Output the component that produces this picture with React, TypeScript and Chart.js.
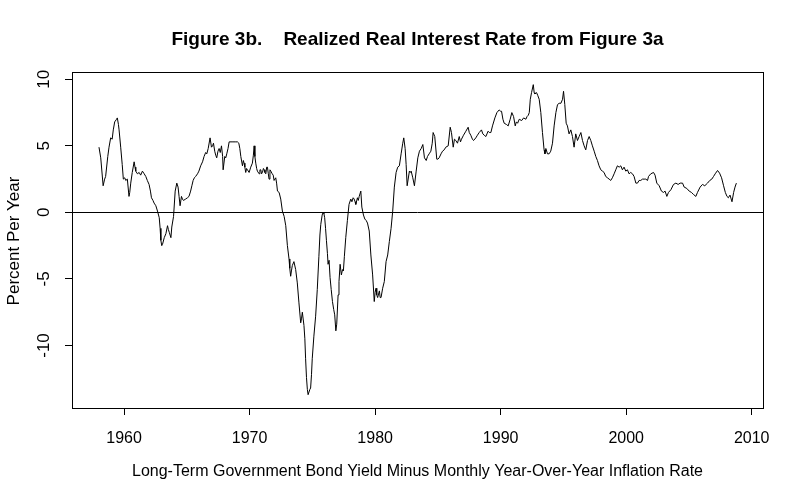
import React, { useEffect, useRef } from "react";
import { Chart, registerables } from "chart.js";

Chart.register(...registerables);

const TITLE = "Figure 3b.    Realized Real Interest Rate from Figure 3a";
const X_TITLE = "Long-Term Government Bond Yield Minus Monthly Year-Over-Year Inflation Rate";
const Y_TITLE = "Percent Per Year";

const xTicks = [1960, 1970, 1980, 1990, 2000, 2010];
const yTicks = [-10, -5, 0, 5, 10];

const years = [
  1958.0, 1958.14, 1958.33, 1958.45, 1958.53, 1958.7, 1958.8, 1958.93, 1959.05, 1959.14,
  1959.25, 1959.4, 1959.46, 1959.55, 1959.6, 1959.73, 1959.85, 1959.94, 1960.05, 1960.13,
  1960.26, 1960.39, 1960.45, 1960.53, 1960.65, 1960.8, 1960.87, 1960.93, 1961.06, 1961.2,
  1961.32, 1961.46, 1961.6, 1961.73, 1961.85, 1961.99, 1962.1, 1962.18, 1962.3, 1962.39,
  1962.53, 1962.66, 1962.8, 1962.87, 1962.93, 1963.0, 1963.06, 1963.2, 1963.33, 1963.46,
  1963.53, 1963.6, 1963.73, 1963.8, 1963.94, 1964.07, 1964.2, 1964.3, 1964.38, 1964.46,
  1964.57, 1964.65, 1964.73, 1964.9, 1965.05, 1965.17, 1965.3, 1965.4, 1965.5, 1965.6,
  1965.7, 1965.85, 1965.96, 1966.1, 1966.25, 1966.37, 1966.5, 1966.59, 1966.7, 1966.85,
  1966.96, 1967.05, 1967.12, 1967.22, 1967.3, 1967.38, 1967.48, 1967.57, 1967.66, 1967.76,
  1967.85, 1967.89, 1968.02, 1968.1, 1968.18, 1968.28, 1968.37, 1968.6, 1968.85, 1969.03,
  1969.14, 1969.22, 1969.3, 1969.43, 1969.5, 1969.56, 1969.62, 1969.69, 1969.76, 1969.83,
  1969.96, 1970.09, 1970.22, 1970.3, 1970.36, 1970.42, 1970.49, 1970.56, 1970.62, 1970.76,
  1970.82, 1970.89, 1970.95, 1971.02, 1971.1, 1971.16, 1971.22, 1971.29, 1971.36, 1971.42,
  1971.49, 1971.55, 1971.62, 1971.69, 1971.8, 1971.88, 1971.95, 1972.08, 1972.15, 1972.22,
  1972.35, 1972.48, 1972.61, 1972.75, 1972.88, 1973.01, 1973.14, 1973.2, 1973.27, 1973.33,
  1973.4, 1973.53, 1973.67, 1973.8, 1973.93, 1974.07, 1974.13, 1974.2, 1974.33, 1974.4,
  1974.46, 1974.53, 1974.6, 1974.66, 1974.73, 1974.8, 1974.86, 1974.93, 1974.99, 1975.12,
  1975.26, 1975.39, 1975.52, 1975.6, 1975.67, 1975.78, 1975.85, 1975.92, 1975.98, 1976.05,
  1976.12, 1976.2, 1976.25, 1976.33, 1976.41, 1976.5, 1976.6, 1976.7, 1976.78, 1976.87,
  1976.94, 1977.05, 1977.12, 1977.21, 1977.31, 1977.4, 1977.47, 1977.55, 1977.66, 1977.79,
  1977.92, 1978.06, 1978.15, 1978.25, 1978.33, 1978.4, 1978.46, 1978.59, 1978.66, 1978.73,
  1978.86, 1978.94, 1979.07, 1979.18, 1979.28, 1979.39, 1979.53, 1979.66, 1979.8, 1979.93,
  1980.0, 1980.07, 1980.13, 1980.2, 1980.34, 1980.4, 1980.47, 1980.6, 1980.73, 1980.87,
  1981.0, 1981.13, 1981.27, 1981.4, 1981.53, 1981.67, 1981.8, 1981.93, 1982.07, 1982.2,
  1982.28, 1982.39, 1982.47, 1982.55, 1982.6, 1982.73, 1982.8, 1982.87, 1983.0, 1983.13,
  1983.27, 1983.4, 1983.53, 1983.67, 1983.8, 1983.93, 1984.07, 1984.17, 1984.3, 1984.44,
  1984.55, 1984.62, 1984.75, 1984.91, 1985.0, 1985.1, 1985.25, 1985.37, 1985.5, 1985.63,
  1985.82, 1985.98, 1986.08, 1986.22, 1986.32, 1986.43, 1986.56, 1986.7, 1986.8, 1986.88,
  1987.04, 1987.23, 1987.41, 1987.5, 1987.62, 1987.75, 1987.84, 1988.02, 1988.15, 1988.29,
  1988.47, 1988.58, 1988.69, 1988.82, 1989.0, 1989.1, 1989.22, 1989.35, 1989.54, 1989.7,
  1989.88, 1990.0, 1990.07, 1990.18, 1990.28, 1990.47, 1990.6, 1990.76, 1990.89, 1991.03,
  1991.16, 1991.25, 1991.35, 1991.48, 1991.67, 1991.83, 1992.01, 1992.1, 1992.2, 1992.28,
  1992.36, 1992.46, 1992.6, 1992.67, 1992.73, 1992.86, 1992.95, 1993.07, 1993.2, 1993.33,
  1993.46, 1993.53, 1993.6, 1993.73, 1993.86, 1993.99, 1994.13, 1994.26, 1994.4, 1994.53,
  1994.66, 1994.8, 1994.93, 1995.01, 1995.11, 1995.22, 1995.32, 1995.45, 1995.59, 1995.72,
  1995.85, 1995.98, 1996.12, 1996.25, 1996.39, 1996.52, 1996.65, 1996.78, 1996.92, 1997.05,
  1997.18, 1997.31, 1997.45, 1997.58, 1997.71, 1997.84, 1997.98, 1998.11, 1998.24, 1998.37,
  1998.51, 1998.64, 1998.77, 1998.9, 1999.04, 1999.17, 1999.3, 1999.44, 1999.57, 1999.7,
  1999.83, 1999.97, 2000.1, 2000.23, 2000.36, 2000.5, 2000.63, 2000.77, 2000.9, 2001.03,
  2001.16, 2001.3, 2001.43, 2001.56, 2001.7, 2001.78, 2001.96, 2002.18, 2002.3, 2002.44,
  2002.63, 2002.81, 2002.97, 2003.1, 2003.24, 2003.37, 2003.56, 2003.77, 2003.96, 2004.14,
  2004.3, 2004.49, 2004.62, 2004.83, 2005.02, 2005.2, 2005.36, 2005.55, 2005.68, 2005.89,
  2006.08, 2006.26, 2006.48, 2006.66, 2006.82, 2006.96, 2007.09, 2007.28, 2007.44, 2007.6,
  2007.76, 2007.9, 2008.03, 2008.14, 2008.27, 2008.43, 2008.56, 2008.67, 2008.78,
];

const realRate = [
  4.9, 4.1, 2.0, 2.5, 2.7, 4.2, 4.9, 5.6, 5.5, 6.2,
  6.8, 7.0, 7.1, 6.6, 6.2, 4.9, 3.6, 2.5, 2.6, 2.4,
  2.5, 1.2, 1.5, 2.2, 3.0, 3.8, 3.4, 3.1, 2.9, 3.0,
  2.8, 3.1, 2.9, 2.7, 2.4, 2.1, 1.6, 1.1, 0.9, 0.7,
  0.5, 0.1, -0.4, -1.2, -2.1, -2.5, -2.4, -1.9, -1.6, -1.0,
  -1.3, -1.5, -1.9, -1.1, -0.3, 1.6, 2.2, 1.9, 1.2, 0.5,
  1.2, 1.0, 0.9, 1.0, 1.1, 1.2, 1.6, 2.0, 2.4, 2.6,
  2.7, 2.9, 3.1, 3.5, 3.8, 4.2, 4.5, 4.4, 4.8, 5.6,
  4.9, 5.0, 5.2, 4.6, 4.3, 4.1, 4.6, 4.8, 4.5, 5.0,
  4.2, 3.2, 4.2, 4.1, 4.4, 4.8, 5.3, 5.3, 5.3, 5.3,
  5.2, 4.8, 4.2, 3.5, 3.9, 3.7, 3.4, 3.0, 3.3, 3.2,
  3.0, 3.4, 3.7, 4.3, 5.0, 4.2, 3.7, 3.3, 3.1, 2.9,
  3.2, 3.2, 2.9, 3.0, 3.3, 3.2, 3.0, 2.9, 3.4, 3.4,
  2.9, 2.5, 3.2, 3.1, 2.9, 2.8, 2.4, 2.6, 2.2, 1.6,
  1.5, 1.0, 0.1, -0.3, -1.0, -2.5, -3.5, -4.2, -4.8, -4.4,
  -4.0, -3.7, -4.3, -5.3, -6.8, -8.3, -8.0, -7.5, -8.5, -9.5,
  -11.0, -12.4, -13.3, -13.7, -13.7, -13.3, -13.2, -12.2, -11.0, -9.3,
  -7.8, -5.8, -3.3, -1.7, -0.9, -0.2, 0.0, -0.1, -0.4, -1.2,
  -2.1, -3.1, -3.9, -3.6, -4.9, -5.8, -6.7, -7.3, -7.7, -8.9,
  -8.4, -6.2, -5.2, -3.9, -4.7, -4.3, -4.4, -3.3, -1.9, -0.6,
  0.6, 1.0, 0.8, 1.1, 1.0, 0.8, 0.6, 1.1, 0.9, 1.2,
  1.6, 0.4, -0.2, -0.5, -0.6, -0.8, -1.4, -3.2, -4.7, -6.7,
  -6.0, -5.7, -6.2, -6.4, -5.9, -6.4, -6.4, -5.7, -5.2, -3.7,
  -3.2, -2.2, -1.2, 0.1, 1.9, 3.0, 3.4, 3.5, 4.4, 5.2,
  5.6, 4.8, 3.6, 2.0, 2.0, 3.1, 3.0, 3.1, 2.6, 2.0,
  3.1, 4.1, 4.6, 4.8, 5.1, 4.1, 3.9, 4.2, 4.4, 4.6,
  5.2, 6.0, 5.7, 4.0, 4.0, 4.1, 4.4, 4.6, 4.7, 4.9,
  5.0, 6.4, 6.0, 4.9, 5.5, 5.4, 5.2, 5.7, 5.3, 5.5,
  5.8, 6.1, 6.4, 6.0, 5.8, 5.5, 5.4, 5.6, 5.8, 6.0,
  6.2, 5.9, 5.8, 5.7, 6.1, 6.0, 6.0, 6.5, 7.1, 7.5,
  7.7, 7.6, 7.6, 7.0, 6.7, 6.6, 6.5, 7.0, 7.5, 7.2,
  6.5, 6.8, 6.7, 7.0, 6.9, 7.1, 7.0, 7.2, 7.3, 7.5,
  8.5, 9.0, 9.6, 9.0, 8.9, 9.0, 8.8, 8.5, 7.5, 6.0,
  4.7, 4.4, 4.8, 4.4, 4.4, 4.6, 5.2, 6.5, 7.5, 8.1,
  8.2, 8.2, 8.5, 9.1, 8.1, 6.7, 6.5, 5.9, 6.2, 5.7,
  4.9, 5.9, 5.4, 5.7, 6.0, 5.4, 5.0, 4.7, 5.4, 5.7,
  5.4, 5.0, 4.6, 4.2, 3.9, 3.5, 3.2, 3.1, 3.0, 2.7,
  2.6, 2.5, 2.4, 2.6, 2.9, 3.2, 3.5, 3.4, 3.5, 3.2,
  3.4, 3.1, 3.2, 2.9, 3.0, 2.9, 2.7, 2.2, 2.2, 2.4,
  2.4, 2.5, 2.5, 2.5, 2.4, 2.7, 2.9, 3.0, 2.8, 2.2,
  2.0, 1.6, 1.5, 1.6, 1.2, 1.5, 1.7, 2.1, 2.2, 2.1,
  2.2, 2.2, 1.9, 1.8, 1.6, 1.5, 1.35, 1.2, 1.5, 1.9,
  2.1, 2.0, 2.2, 2.4, 2.5, 2.7, 2.9, 3.15, 2.95, 2.6,
  2.0, 1.5, 1.2, 1.1, 1.3, 0.8, 1.5, 1.9, 2.2,
];

const FONT = "'Liberation Sans', Arial, sans-serif";

const decorPlugin = {
  id: "decor",
  beforeDatasetsDraw(chart: any) {
    const { ctx, chartArea } = chart;
    const y0 = Math.round(chart.scales.y.getPixelForValue(0)) + 0.5;
    ctx.save();
    ctx.strokeStyle = "#000";
    ctx.lineWidth = 1;
    ctx.beginPath();
    ctx.moveTo(chartArea.left, y0);
    ctx.lineTo(chartArea.right, y0);
    ctx.stroke();
    ctx.restore();
  },
  afterDraw(chart: any) {
    const { ctx, chartArea } = chart;
    const ys = chart.scales.y;
    ctx.save();
    ctx.strokeStyle = "#000";
    ctx.lineWidth = 1;
    ctx.strokeRect(
      Math.round(chartArea.left) + 0.5,
      Math.round(chartArea.top) + 0.5,
      Math.round(chartArea.right - chartArea.left),
      Math.round(chartArea.bottom - chartArea.top)
    );
    ctx.fillStyle = "#000";
    ctx.textAlign = "center";
    ctx.textBaseline = "middle";
    // y tick labels, rotated
    ctx.font = `17px ${FONT}`;
    yTicks.forEach((v) => {
      const py = ys.getPixelForValue(v);
      ctx.save();
      ctx.translate(44, py);
      ctx.rotate(-Math.PI / 2);
      ctx.fillText(String(v), 0, 0);
      ctx.restore();
    });
    // y title
    ctx.save();
    ctx.translate(14, (chartArea.top + chartArea.bottom) / 2 + 1);
    ctx.rotate(-Math.PI / 2);
    ctx.fillText(Y_TITLE, 0, 0);
    ctx.restore();
    const cx = (chartArea.left + chartArea.right) / 2;
    ctx.font = `16px ${FONT}`;
    ctx.fillText(X_TITLE, cx, 472);
    ctx.font = `bold 19px ${FONT}`;
    ctx.fillText(TITLE, cx, 40);
    ctx.restore();
  },
};

export default function App() {
  const ref = useRef<HTMLCanvasElement | null>(null);
  useEffect(() => {
    if (!ref.current) return;
    const chart = new Chart(ref.current, {
      type: "line",
      data: {
        datasets: [
          {
            data: years.map((x, i) => ({ x, y: realRate[i] })),
            borderColor: "#000",
            borderWidth: 1,
            pointRadius: 0,
            tension: 0,
            fill: false,
          },
        ],
      },
      options: {
        responsive: false,
        animation: false,
        events: [],
        layout: { padding: { top: 72, right: 37, left: 0, bottom: 0 } },
        plugins: { legend: { display: false }, title: { display: false }, tooltip: { enabled: false } },
        scales: {
          x: {
            type: "linear",
            min: 1955.85,
            max: 2010.9,
            afterBuildTicks: (s: any) => {
              s.ticks = xTicks.map((v) => ({ value: v }));
            },
            afterFit: (s: any) => {
              s.height = 92;
            },
            border: { display: false },
            grid: { drawOnChartArea: false, drawTicks: true, tickLength: 7, color: "#000", lineWidth: 1 },
            ticks: {
              color: "#000",
              font: { family: FONT, size: 16 },
              padding: 14,
              maxRotation: 0,
              autoSkip: false,
              callback: (v: any) => String(v),
            },
          },
          y: {
            type: "linear",
            min: -14.7,
            max: 10.55,
            afterBuildTicks: (s: any) => {
              s.ticks = yTicks.map((v) => ({ value: v }));
            },
            afterFit: (s: any) => {
              s.width = 72;
            },
            border: { display: false },
            grid: { drawOnChartArea: false, drawTicks: true, tickLength: 7, color: "#000", lineWidth: 1 },
            ticks: { display: false },
          },
        },
      },
      plugins: [decorPlugin],
    });
    return () => chart.destroy();
  }, []);
  return (
    <div style={{ position: "absolute", left: 0, top: 0, width: 800, height: 500, background: "#fff" }}>
      <canvas ref={ref} width={800} height={500} style={{ width: 800, height: 500 }} />
    </div>
  );
}
